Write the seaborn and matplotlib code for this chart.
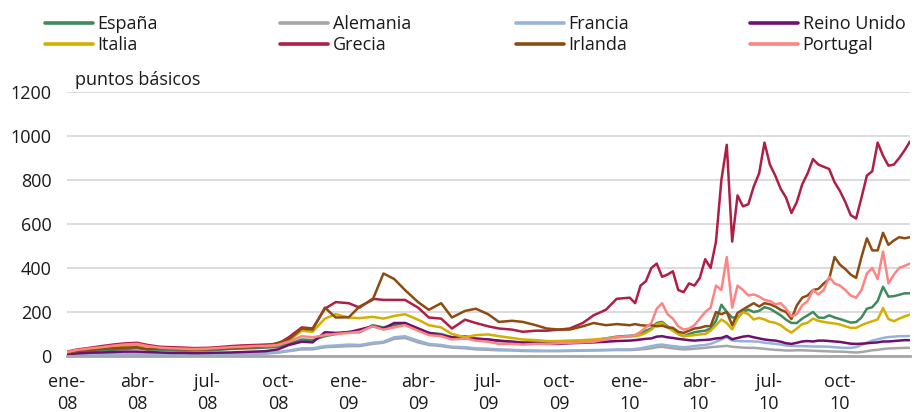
import numpy as np
import pandas as pd
import matplotlib
matplotlib.use('Agg')
import matplotlib.pyplot as plt
import seaborn as sns
from matplotlib.lines import Line2D

# ---------------- data ----------------
countries = ['España', 'Alemania', 'Francia', 'Reino Unido',
             'Italia', 'Grecia', 'Irlanda', 'Portugal']
colors = ['#3f8a5c', '#a6a6a6', '#95b3d7', '#6f0f6f',
          '#d4af00', '#b01e45', '#8e4b10', '#ff8383']

tick_dates = ['2008-01-01', '2008-04-01', '2008-07-01', '2008-10-01',
              '2009-01-01', '2009-04-01', '2009-07-01', '2009-10-01',
              '2010-01-01', '2010-04-01', '2010-07-01', '2010-10-01']
tick_labels = ['ene-\n08', 'abr-\n08', 'jul-\n08', 'oct-\n08',
               'ene-\n09', 'abr-\n09', 'jul-\n09', 'oct-\n09',
               'ene-\n10', 'abr-\n10', 'jul-\n10', 'oct-\n10']
y_ticks = [0, 200, 400, 600, 800, 1000, 1200]

# semi-monthly observations 2008-2009, weekly observations 2010
dates = pd.date_range('2008-01-01', '2009-12-15', freq='SMS').append(
    pd.date_range('2010-01-01', '2010-12-31', freq='7D'))

espana_0809 = [12, 18, 22, 25, 28, 32, 35, 30, 28, 26, 25, 25, 26, 28, 32, 34, 36, 38, 42, 55,
               75, 72, 90, 100, 110, 108, 140, 130, 140, 150, 125, 105, 100, 85, 90, 80, 75, 68, 65, 62,
               62, 60, 62, 63, 65, 70, 80, 88]
espana_2010 = [92, 95, 100, 115, 125, 150, 155, 135, 120, 100, 90, 100, 108, 112, 115, 125, 160, 233, 200, 175,
               175, 200, 211, 200, 205, 222, 215, 200, 185, 165, 150, 150, 170, 185, 200, 175, 173, 185, 175, 168,
               160, 152, 154, 175, 215, 222, 250, 315, 270, 272, 278, 285, 285]

alemania_0809 = [4, 5, 6, 7, 8, 9, 9, 8, 7, 7, 7, 7, 7, 8, 8, 9, 10, 11, 15, 22,
                 30, 30, 40, 42, 45, 45, 55, 60, 78, 82, 62, 50, 45, 38, 35, 30, 28, 26, 25, 23,
                 22, 22, 22, 23, 24, 25, 26, 27]
alemania_2010 = [27, 28, 30, 32, 35, 40, 42, 38, 35, 32, 30, 31, 33, 35, 37, 40, 42, 44, 46, 42,
                 40, 38, 37, 37, 35, 33, 30, 28, 27, 25, 25, 26, 26, 25, 24, 23, 22, 21, 20, 20,
                 19, 17, 16, 18, 22, 26, 28, 32, 34, 35, 36, 37, 37]

francia_0809 = [5, 7, 8, 9, 10, 11, 12, 11, 10, 9, 9, 9, 9, 10, 10, 11, 12, 13, 18, 25,
                35, 35, 45, 48, 52, 50, 60, 65, 85, 90, 70, 55, 50, 42, 40, 35, 33, 30, 28, 26,
                25, 24, 24, 25, 26, 27, 28, 30]
francia_2010 = [30, 32, 35, 40, 45, 50, 52, 48, 45, 42, 40, 42, 45, 48, 50, 55, 65, 75, 85, 70,
                68, 67, 67, 66, 65, 60, 58, 55, 52, 48, 46, 45, 45, 44, 43, 43, 43, 42, 40, 38,
                37, 37, 40, 50, 60, 70, 76, 82, 86, 88, 90, 90, 91]

reino_unido_0809 = [8, 12, 15, 16, 18, 20, 20, 18, 16, 14, 14, 13, 14, 15, 16, 18, 20, 22, 30, 50,
                    65, 62, 108, 105, 108, 120, 135, 125, 150, 150, 125, 105, 95, 85, 80, 78, 75, 70, 65, 60,
                    58, 55, 55, 58, 60, 62, 65, 68]
reino_unido_2010 = [70, 72, 75, 78, 80, 88, 90, 85, 82, 78, 75, 72, 70, 72, 73, 75, 80, 82, 91, 76,
                    82, 88, 91, 85, 80, 75, 72, 70, 65, 58, 55, 60, 66, 68, 66, 70, 70, 68, 66, 64,
                    60, 56, 55, 56, 58, 60, 62, 66, 66, 68, 70, 72, 72]

italia_0809 = [15, 25, 32, 36, 42, 48, 50, 42, 36, 34, 32, 30, 32, 35, 38, 40, 42, 45, 50, 70,
               115, 110, 170, 190, 175, 172, 178, 170, 182, 190, 165, 140, 130, 100, 85, 95, 98, 90, 82, 75,
               72, 68, 68, 70, 72, 75, 80, 85]
italia_2010 = [88, 90, 95, 105, 120, 145, 150, 130, 115, 100, 90, 92, 95, 98, 100, 115, 140, 166, 150, 121,
               170, 200, 190, 166, 173, 166, 155, 151, 140, 121, 106, 125, 145, 151, 170, 160, 155, 151, 148, 143,
               135, 128, 128, 140, 150, 158, 166, 218, 168, 158, 170, 180, 188]

grecia_0809 = [20, 30, 38, 45, 52, 57, 60, 50, 42, 40, 38, 36, 37, 40, 45, 48, 50, 52, 55, 85,
               130, 125, 215, 245, 240, 220, 260, 255, 255, 255, 220, 175, 170, 125, 165, 150, 135, 125, 120, 110,
               115, 115, 120, 125, 150, 185, 210, 260]
grecia_2010 = [265, 240, 320, 340, 400, 420, 360, 370, 385, 300, 290, 330, 320, 355, 440, 400, 520, 800, 960, 520,
               730, 680, 690, 770, 830, 970, 870, 820, 760, 720, 650, 700, 780, 830, 895, 870, 860, 850, 790, 750,
               700, 640, 625, 720, 820, 840, 970, 910, 865, 870, 900, 935, 975]

irlanda_0809 = [15, 22, 28, 32, 35, 38, 40, 30, 35, 32, 30, 30, 30, 32, 35, 38, 40, 45, 60, 75,
                125, 120, 220, 175, 176, 225, 255, 375, 350, 300, 245, 210, 240, 175, 205, 215, 190, 155, 160, 155,
                140, 125, 120, 120, 135, 150, 140, 145]
irlanda_2010 = [140, 145, 140, 138, 140, 135, 138, 130, 128, 110, 105, 115, 125, 128, 135, 136, 200, 190, 200, 140,
                196, 211, 226, 240, 225, 240, 235, 225, 210, 200, 168, 230, 265, 275, 300, 305, 330, 350, 450, 415,
                395, 370, 355, 450, 535, 480, 480, 560, 505, 525, 540, 535, 540]

portugal_0809 = [18, 28, 35, 40, 47, 52, 55, 45, 38, 35, 33, 32, 33, 36, 40, 42, 45, 46, 50, 65,
                 90, 85, 95, 100, 105, 110, 135, 120, 130, 140, 115, 95, 90, 75, 80, 70, 65, 55, 55, 52,
                 55, 55, 58, 60, 62, 65, 75, 85]
portugal_2010 = [90, 95, 110, 130, 150, 215, 240, 190, 170, 135, 120, 125, 140, 170, 200, 220, 320, 300, 450, 220,
                 320, 300, 275, 280, 270, 255, 250, 235, 240, 215, 180, 190, 230, 250, 300, 280, 300, 360, 330, 320,
                 300, 275, 265, 300, 375, 400, 350, 475, 330, 370, 400, 410, 420]

series = {
    'España': espana_0809 + espana_2010,
    'Alemania': alemania_0809 + alemania_2010,
    'Francia': francia_0809 + francia_2010,
    'Reino Unido': reino_unido_0809 + reino_unido_2010,
    'Italia': italia_0809 + italia_2010,
    'Grecia': grecia_0809 + grecia_2010,
    'Irlanda': irlanda_0809 + irlanda_2010,
    'Portugal': portugal_0809 + portugal_2010,
}

df = pd.concat([pd.DataFrame({'fecha': dates, 'pb': vals, 'pais': name})
                for name, vals in series.items()], ignore_index=True)

# ---------------- plot ----------------
sns.set_theme(style='white')
plt.rcParams['font.family'] = ['Open Sans', 'DejaVu Sans']
plt.rcParams['text.color'] = '#1a1a1a'

fig = plt.figure(figsize=(9.14, 4.12), dpi=100)
ax = fig.add_axes([67 / 914, 1 - 356 / 412, 843 / 914, (356 - 92) / 412])

sns.lineplot(data=df, x='fecha', y='pb', hue='pais', hue_order=countries,
             palette=colors, linewidth=1.8, estimator=None, legend=False, ax=ax)

ax.set_xlim(pd.Timestamp('2008-01-01'), pd.Timestamp('2010-12-31'))
ax.set_ylim(0, 1200)
ax.set_yticks(y_ticks)
ax.set_yticklabels([str(v) for v in y_ticks])
ax.set_xticks(pd.to_datetime(tick_dates))
ax.set_xticklabels(tick_labels, linespacing=1.3)
ax.set_xlabel('')
ax.set_ylabel('')
ax.tick_params(axis='both', length=0, labelsize=13, colors='#1a1a1a')
ax.tick_params(axis='x', pad=12)
ax.tick_params(axis='y', pad=11)
ax.set_axisbelow(True)
ax.yaxis.grid(True, color='#d9d9d9', linewidth=1.3)
ax.xaxis.grid(False)
for s in ['left', 'right', 'top']:
    ax.spines[s].set_visible(False)
ax.spines['bottom'].set_color('#a6a6a6')
ax.spines['bottom'].set_linewidth(2.0)

fig.text(75 / 914, 1 - 80 / 412, 'puntos básicos', ha='left', va='center', fontsize=13)

# legend: 4 columns, 2 rows (row-major like the original)
col_x = [45 / 914, 280 / 914, 516 / 914, 750 / 914]
for c in range(4):
    idx = [c, c + 4]
    handles = [Line2D([], [], color=colors[i], linewidth=2.6) for i in idx]
    labels = [countries[i] for i in idx]
    fig.legend(handles, labels, loc='upper left', bbox_to_anchor=(col_x[c], 0.963),
               frameon=False, fontsize=13, handlelength=2.66, handletextpad=0.25,
               borderpad=0, borderaxespad=0, labelspacing=0.15)

fig.savefig('out.png', dpi=100)
